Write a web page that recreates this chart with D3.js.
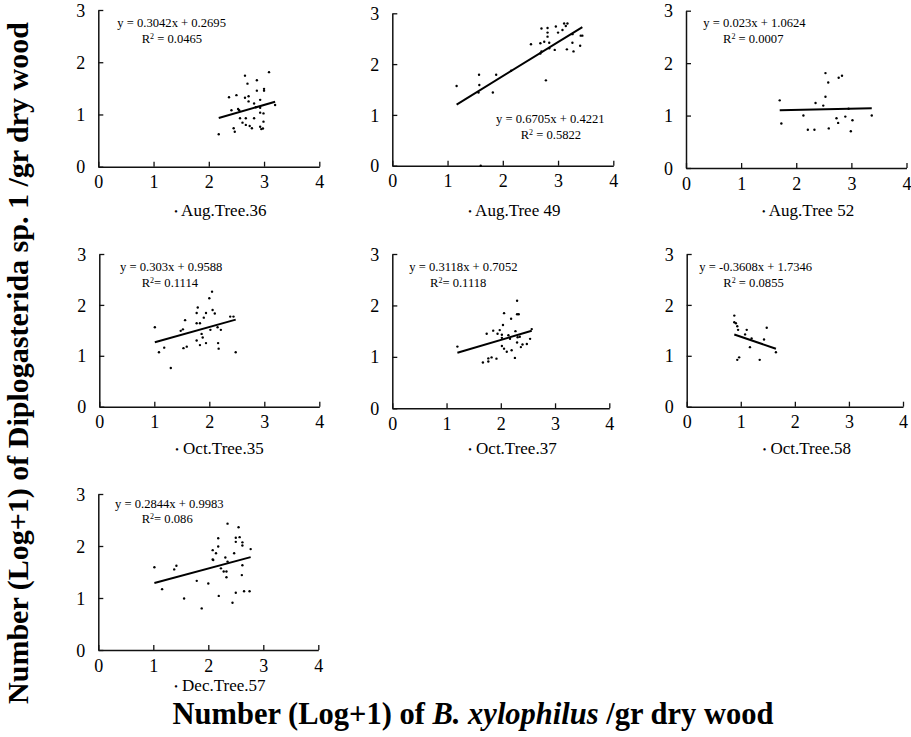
<!DOCTYPE html>
<html><head><meta charset="utf-8">
<script src="https://cdn.jsdelivr.net/npm/d3@7"></script>
<style>
html,body{margin:0;padding:0;background:#fff;}
svg{display:block;}
text{font-family:"Liberation Serif","Times New Roman",serif;fill:#000;}
</style></head>
<body>
<svg id="chart" width="911" height="737"></svg>
<script>
// ---------- data ----------
const xTicks = [0, 1, 2, 3, 4];
const yTicks = [0, 1, 2, 3];
const panelTitles = ["Aug.Tree.36", "Aug.Tree 49", "Aug.Tree 52", "Oct.Tree.35", "Oct.Tree.37", "Oct.Tree.58", "Dec.Tree.57"];
const fitSlopes = [0.3042, 0.6705, 0.023, 0.303, 0.3118, -0.3608, 0.2844];
const fitIntercepts = [0.2695, 0.4221, 1.0624, 0.9588, 0.7052, 1.7346, 0.9983];
const eqLabels = ["y = 0.3042x + 0.2695", "y = 0.6705x + 0.4221", "y = 0.023x + 1.0624", "y = 0.303x + 0.9588", "y = 0.3118x + 0.7052", "y = -0.3608x + 1.7346", "y = 0.2844x + 0.9983"];
const r2Labels = [" = 0.0465", " = 0.5822", " = 0.0007", "= 0.1114", "= 0.1118", " = 0.0855", "= 0.086"];

const aug36X = [2.655, 3.09, 2.87, 2.70, 2.87, 3.00, 3.00, 2.366, 2.50, 2.655, 2.72, 2.72, 2.82, 2.93, 3.20, 2.85, 2.93, 2.41, 2.53, 2.55, 2.93, 2.99, 2.565, 2.67, 2.82, 2.99, 2.61, 2.67, 2.74, 2.78, 2.93, 2.95, 2.98, 2.45, 2.47, 2.18];
const aug36Y = [1.743, 1.81, 1.655, 1.59, 1.456, 1.49, 1.456, 1.33, 1.37, 1.32, 1.35, 1.25, 1.21, 1.28, 1.18, 1.14, 1.13, 1.08, 1.105, 1.08, 1.035, 1.02, 0.927, 0.927, 0.927, 0.862, 0.843, 0.80, 0.78, 0.735, 0.766, 0.72, 0.73, 0.735, 0.67, 0.62];

const aug49X = [1.164, 1.57, 1.575, 1.56, 1.82, 1.88, 2.15, 2.51, 2.68, 2.70, 2.75, 2.81, 2.81, 2.81, 2.84, 2.68, 2.70, 2.78, 2.84, 2.94, 2.96, 3.00, 3.08, 3.11, 3.17, 3.14, 3.16, 3.26, 3.26, 3.28, 3.40, 3.41, 3.44, 1.60];
const aug49Y = [1.57, 1.79, 1.59, 1.44, 1.44, 1.79, 1.87, 2.39, 2.41, 2.70, 2.44, 2.62, 2.71, 2.54, 2.42, 2.21, 2.25, 1.68, 2.31, 2.28, 2.74, 2.62, 2.67, 2.80, 2.80, 2.75, 2.29, 2.59, 2.42, 2.25, 2.36, 2.56, 2.56, 0.0];

const aug52X = [1.70, 1.73, 2.13, 2.21, 2.33, 2.35, 2.49, 2.53, 2.53, 2.58, 2.59, 2.73, 2.76, 2.77, 2.83, 2.89, 2.95, 2.99, 3.02, 3.37];
const aug52Y = [1.29, 0.85, 1.00, 0.73, 0.73, 1.24, 1.19, 1.81, 1.36, 1.63, 0.755, 0.95, 0.86, 1.72, 1.76, 0.98, 1.13, 0.70, 0.91, 1.00];

const oct35X = [1.01, 1.085, 1.18, 1.30, 1.48, 1.52, 1.56, 1.53, 1.59, 1.77, 1.79, 1.77, 1.77, 1.83, 1.83, 1.86, 1.88, 1.90, 1.94, 1.94, 2.00, 2.02, 2.05, 2.06, 2.10, 2.15, 2.16, 2.17, 2.21, 2.38, 2.44, 2.48];
const oct35Y = [1.56, 1.07, 1.16, 0.76, 1.49, 1.52, 1.70, 1.15, 1.18, 1.84, 1.95, 1.64, 1.30, 1.64, 1.21, 1.43, 1.36, 1.75, 1.84, 1.25, 2.13, 1.51, 2.26, 1.90, 1.83, 1.56, 1.25, 1.14, 1.51, 1.77, 1.77, 1.07];

const oct37X = [1.20, 1.67, 1.77, 1.77, 1.83, 1.92, 1.74, 1.86, 1.94, 1.98, 2.02, 2.02, 2.04, 2.06, 2.02, 2.06, 2.11, 2.14, 2.17, 2.19, 2.20, 2.26, 2.27, 2.30, 2.30, 2.33, 2.31, 2.30, 2.35, 2.37, 2.40, 2.48, 2.54, 2.57];
const oct37Y = [1.20, 0.89, 0.97, 0.91, 0.99, 0.965, 1.45, 1.51, 1.45, 1.52, 1.43, 1.37, 1.62, 1.85, 1.21, 1.16, 1.10, 1.42, 1.35, 1.74, 1.13, 0.98, 1.50, 2.09, 1.83, 1.83, 1.38, 1.28, 1.39, 1.19, 1.24, 1.25, 1.35, 1.54];

const oct58X = [0.88, 0.88, 0.91, 0.935, 0.95, 0.935, 0.97, 1.11, 1.08, 1.20, 1.17, 1.35, 1.43, 1.48, 1.65];
const oct58Y = [1.79, 1.66, 1.64, 1.58, 1.51, 0.92, 0.97, 1.51, 1.42, 1.34, 1.17, 0.92, 1.32, 1.55, 1.07];

const dec57X = [1.02, 1.16, 1.38, 1.42, 1.56, 1.79, 1.88, 2.00, 2.08, 2.08, 2.09, 2.14, 2.18, 2.18, 2.19, 2.23, 2.28, 2.31, 2.33, 2.33, 2.35, 2.35, 2.44, 2.47, 2.50, 2.50, 2.50, 2.55, 2.57, 2.61, 2.62, 2.62, 2.62, 2.65, 2.75, 2.77];
const dec57Y = [1.59, 1.17, 1.55, 1.62, 0.99, 1.33, 0.80, 1.28, 1.92, 1.74, 1.73, 1.86, 2.15, 1.99, 1.04, 1.57, 1.51, 1.78, 1.51, 1.40, 1.70, 2.43, 0.91, 1.86, 2.16, 2.08, 1.10, 2.36, 2.17, 1.44, 2.07, 2.01, 1.63, 1.13, 1.13, 1.94];

const seriesX = [aug36X, aug49X, aug52X, oct35X, oct37X, oct58X, dec57X];
const seriesY = [aug36Y, aug49Y, aug52Y, oct35Y, oct37Y, oct58Y, dec57Y];

// ---------- layout (pixel geometry of each panel) ----------
const layout = [
  {x0: 98.3, x4: 319.3, y0: 166.7, y3: 10,    ty: 215.5, eq: [117.3, 27, 141.7, 42.5]},
  {x0: 392.3, x4: 613.3, y0: 165.7, y3: 13.3, ty: 215.5, eq: [496, 123, 520.7, 139]},
  {x0: 686, x4: 906.5, y0: 168, y3: 10.7,     ty: 215.5, eq: [703.3, 27, 723, 42.5]},
  {x0: 99.3, x4: 319.3, y0: 406.7, y3: 254,   ty: 453.5, eq: [120, 271, 141.7, 286.5]},
  {x0: 392.3, x4: 609.3, y0: 408.3, y3: 254,  ty: 453.5, eq: [409.3, 271, 430, 286.5]},
  {x0: 686.7, x4: 903, y0: 406.7, y3: 254,    ty: 453.5, eq: [699.3, 271, 723.3, 286.5]},
  {x0: 98.3, x4: 318.3, y0: 650, y3: 494,     ty: 691, eq: [115, 507.5, 141.7, 523]}
];

const svg = d3.select("#chart");

panelTitles.forEach((title, i) => {
  const L = layout[i];
  const xs = d3.scaleLinear().domain([0, 4]).range([L.x0, L.x4]);
  const ys = d3.scaleLinear().domain([0, 3]).range([L.y0, L.y3]);
  const g = svg.append("g");

  // axes
  const xAxis = d3.axisBottom(xs).tickValues(xTicks).tickFormat(d3.format("d"))
    .tickSizeInner(-5).tickSizeOuter(0).tickPadding(9);
  const yAxis = d3.axisLeft(ys).tickValues(yTicks).tickFormat(d3.format("d"))
    .tickSizeInner(-5).tickSizeOuter(0).tickPadding(13);
  const gx = g.append("g").attr("transform", `translate(0,${L.y0})`).call(xAxis)
    .attr("font-size", 18).attr("font-family", "'Liberation Serif', serif");
  const gy = g.append("g").attr("transform", `translate(${L.x0},0)`).call(yAxis)
    .attr("font-size", 18).attr("font-family", "'Liberation Serif', serif");
  gy.selectAll(".tick text").attr("dy", "0.34em");
  [gx, gy].forEach(a => {
    a.selectAll("path.domain").attr("stroke", "#111").attr("stroke-width", 1.5);
    a.selectAll(".tick line").attr("stroke", "#111").attr("stroke-width", 1.3);
    a.selectAll(".tick text").attr("fill", "#000");
  });

  // points
  const xv = seriesX[i], yv = seriesY[i];
  g.selectAll("circle.pt").data(xv.map((d, k) => [d, yv[k]])).enter()
    .append("circle").attr("class", "pt")
    .attr("cx", d => xs(d[0])).attr("cy", d => ys(d[1]))
    .attr("r", 1.2).attr("fill", "#000");

  // regression line over data range
  const pts = xv.map((d, k) => [d, yv[k]]).filter(d => d[1] > 0);
  const [mn, mx] = d3.extent(pts, d => d[0]);
  const line = d3.line().x(d => xs(d)).y(d => ys(fitSlopes[i] * d + fitIntercepts[i]));
  g.append("path").attr("d", line([mn, mx])).attr("fill", "none")
    .attr("stroke", "#000").attr("stroke-width", 2);

  // equation
  g.append("text").attr("x", L.eq[0]).attr("y", L.eq[1])
    .style("font-size", "12.6px").text(eqLabels[i]);
  const r2 = g.append("text").attr("x", L.eq[2]).attr("y", L.eq[3]).style("font-size", "12.6px");
  r2.append("tspan").text("R");
  r2.append("tspan").attr("dy", -4).style("font-size", "8px").text("2");
  r2.append("tspan").attr("dy", 4).text(r2Labels[i]);

  // panel title
  const t = g.append("text").attr("x", L.x0 + 76).attr("y", L.ty).style("font-size", "17px");
  t.append("tspan").style("font-size", "10px").attr("dy", -1).text("\u2022");
  t.append("tspan").attr("dy", 1).text(" " + title);
});

// axis titles
svg.append("text")
  .attr("transform", "translate(28,363) rotate(-90)")
  .attr("text-anchor", "middle")
  .style("font-size", "30px").style("font-weight", "bold")
  .text("Number (Log+1) of Diplogasterida sp. 1 /gr dry wood");

const xt = svg.append("text").attr("x", 473).attr("y", 724)
  .attr("text-anchor", "middle")
  .style("font-size", "30.5px").style("font-weight", "bold");
xt.append("tspan").text("Number (Log+1) of ");
xt.append("tspan").style("font-style", "italic").text("B. xylophilus");
xt.append("tspan").text(" /gr dry wood");
</script>
</body></html>
